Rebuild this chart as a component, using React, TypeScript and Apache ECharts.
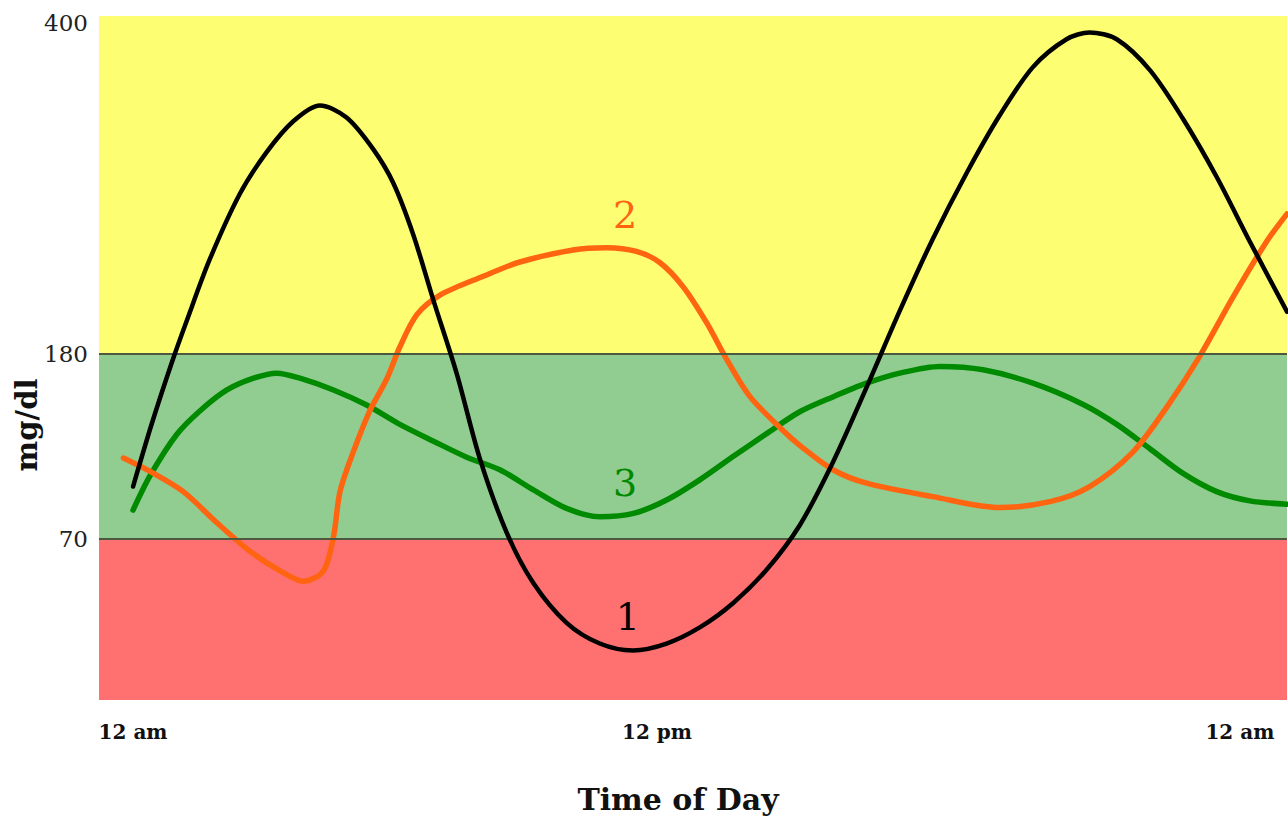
import React, { useEffect, useRef } from "react";
import * as echarts from "echarts";

// ---- Data (hours after midnight, blood glucose in mg/dl) ----
const CURVE1_HOURS = [0.0, 0.43, 0.89, 1.23, 1.76, 2.45, 3.06, 3.67, 4.28, 4.89, 5.5, 5.96, 6.42, 6.88, 7.41, 7.95, 8.56, 9.16, 9.93, 10.69, 11.45, 12.22, 12.98, 13.74, 14.51, 15.27, 16.03, 16.8, 17.56, 18.32, 19.09, 19.85, 20.61, 21.38, 21.91, 22.53, 23.29, 24.04, 24.82, 25.58, 26.43];
const CURVE1_MGDL = [101, 138.5, 175, 202, 243, 286.5, 314, 334.5, 345, 337, 316, 293.5, 259, 215.5, 168.5, 117, 73.5, 51, 33.5, 24.5, 21.5, 24.5, 31.5, 42, 56.5, 78, 115.5, 160, 208.5, 256.5, 300, 338.5, 370.5, 389, 393.5, 389, 368.5, 336.5, 297.5, 254.5, 208];

const CURVE2_HOURS = [-0.22, 0.39, 1.15, 1.92, 2.68, 3.37, 3.9, 4.36, 4.59, 4.74, 5.05, 5.43, 5.81, 6.11, 6.5, 7.03, 8.02, 8.86, 10.08, 10.85, 11.53, 12.07, 12.6, 13.14, 13.6, 14.13, 14.88, 15.27, 16.03, 16.8, 18.32, 19.85, 21.0, 21.91, 22.9, 23.67, 24.43, 25.19, 25.96, 26.43];
const CURVE2_MGDL = [118, 110, 98, 79.5, 64.5, 56, 51.5, 56, 71, 98, 122, 146.5, 165, 184.5, 206, 219, 231.5, 241, 249, 250.5, 248, 240.5, 224.5, 200.5, 176.5, 154.5, 134.5, 125.5, 111, 103, 95, 88.5, 92, 101, 121.5, 148, 178.5, 217.5, 254.5, 273];

const CURVE3_HOURS = [0.0, 0.39, 1.0, 1.53, 2.15, 2.76, 3.29, 3.82, 4.59, 5.35, 6.11, 6.88, 7.64, 8.4, 9.17, 9.93, 10.69, 11.46, 12.22, 12.98, 13.75, 14.51, 15.27, 16.04, 16.8, 17.56, 18.48, 19.47, 20.61, 21.75, 22.53, 23.29, 24.04, 24.82, 25.58, 26.43];
const CURVE3_MGDL = [87, 107.5, 132, 146, 158.5, 165.5, 168.5, 165.5, 158.5, 149.5, 138, 128, 118.5, 111, 99, 88, 83, 85, 93, 105, 119, 132.5, 145.5, 154.5, 162.5, 168.5, 172.5, 170.5, 162.5, 150, 138, 123.5, 109, 98, 92.5, 90.5];

const CURVE_NAMES = ["1", "2", "3"];
const CURVE_LABEL_HOUR = [11.33, 11.27, 11.27];
const CURVE_LABEL_MGDL = [36, 272, 103];

const Y_TICKS = [70, 180, 400];
const THRESHOLDS = [70, 180];
const X_TICK_HOURS = [0, 12, 25.35];
const X_TICK_LABELS = ["12 am", "12 pm", "12 am"];

// ---- Schematic (piecewise-linear) glucose scale ----
const MG_KNOTS = [0, 70, 180, 400];
const AXIS_KNOTS = [-26, 70, 180, 377];
const AXIS_MIN = -26;
const AXIS_MAX = 381;

function toAxis(mg: number): number {
  let i = 0;
  if (mg >= MG_KNOTS[MG_KNOTS.length - 1]) i = MG_KNOTS.length - 2;
  else {
    while (i < MG_KNOTS.length - 2 && mg > MG_KNOTS[i + 1]) i++;
  }
  const t = (mg - MG_KNOTS[i]) / (MG_KNOTS[i + 1] - MG_KNOTS[i]);
  return AXIS_KNOTS[i] + t * (AXIS_KNOTS[i + 1] - AXIS_KNOTS[i]);
}

const COLORS = { c1: "#000000", c2: "#ff6411", c3: "#008a00" };
const SERIF = "'DejaVu Serif', 'Liberation Serif', serif";

function pairs(hours: number[], mg: number[]) {
  return hours.map((h, i) => [h, toAxis(mg[i])]);
}

function curveSeries(idx: number, hours: number[], mg: number[], color: string, width: number) {
  return {
    type: "line",
    name: "Curve " + CURVE_NAMES[idx],
    data: pairs(hours, mg),
    smooth: 0.3,
    showSymbol: false,
    symbol: "none",
    lineStyle: { color, width, cap: "round", join: "round" },
    z: 3 + (idx === 0 ? 2 : idx === 1 ? 1 : 0),
    silent: true,
    markPoint: {
      symbol: "circle",
      symbolSize: 1,
      itemStyle: { color: "rgba(0,0,0,0)" },
      silent: true,
      label: {
        show: true,
        position: "inside",
        formatter: CURVE_NAMES[idx],
        color,
        fontSize: 38,
        fontFamily: SERIF,
      },
      data: [{ coord: [CURVE_LABEL_HOUR[idx], toAxis(CURVE_LABEL_MGDL[idx])] }],
    },
  };
}

export default function App() {
  const ref = useRef<HTMLDivElement>(null);
  useEffect(() => {
    if (!ref.current) return;
    const chart = echarts.init(ref.current, null, { renderer: "svg" });
    const option = {
      animation: false,
      backgroundColor: "#ffffff",
      grid: { left: 99, right: 1, top: 16, bottom: 122, containLabel: false },
      xAxis: {
        type: "value",
        min: -0.78,
        max: 26.43,
        axisLine: { show: false },
        axisTick: { show: false },
        splitLine: { show: false },
        axisLabel: {
          customValues: X_TICK_HOURS,
          formatter: (v: number) => {
            const i = X_TICK_HOURS.findIndex((x) => Math.abs(x - v) < 1e-6);
            return i >= 0 ? X_TICK_LABELS[i] : "";
          },
          margin: 22,
          fontSize: 20,
          fontWeight: "bold",
          fontFamily: SERIF,
          color: "#111",
        },
      },
      yAxis: {
        type: "value",
        min: AXIS_MIN,
        max: AXIS_MAX,
        axisLine: { show: false },
        axisTick: { show: false },
        splitLine: { show: false },
        axisLabel: {
          customValues: Y_TICKS.map(toAxis),
          formatter: (v: number) => {
            const i = Y_TICKS.findIndex((t) => Math.abs(toAxis(t) - v) < 1e-6);
            return i >= 0 ? String(Y_TICKS[i]) : "";
          },
          margin: 11,
          fontSize: 23,
          fontFamily: SERIF,
          color: "#222",
        },
      },
      graphic: [
        {
          type: "text",
          x: 678,
          y: 799,
          style: {
            text: "Time of Day",
            fontSize: 30,
            fontWeight: "bold",
            fontFamily: SERIF,
            fill: "#111",
            align: "center",
            verticalAlign: "middle",
          },
        },
        {
          type: "text",
          x: 27,
          y: 425,
          rotation: Math.PI / 2,
          style: {
            text: "mg/dl",
            fontSize: 29,
            fontWeight: "bold",
            fontFamily: SERIF,
            fill: "#111",
            align: "center",
            verticalAlign: "middle",
          },
        },
      ],
      series: [
        {
          type: "line",
          name: "bands",
          data: [],
          silent: true,
          z: 1,
          markArea: {
            silent: true,
            data: [
              [{ yAxis: AXIS_MIN, itemStyle: { color: "#ff7171" } }, { yAxis: toAxis(THRESHOLDS[0]) }],
              [{ yAxis: toAxis(THRESHOLDS[0]), itemStyle: { color: "#91cd91" } }, { yAxis: toAxis(THRESHOLDS[1]) }],
              [{ yAxis: toAxis(THRESHOLDS[1]), itemStyle: { color: "#fefe72" } }, { yAxis: AXIS_MAX }],
            ],
          },
          markLine: {
            silent: true,
            symbol: ["none", "none"],
            label: { show: false },
            lineStyle: { color: "#4c5840", width: 2, type: "solid" },
            data: THRESHOLDS.map((t) => ({ yAxis: toAxis(t) })),
          },
        },
        curveSeries(2, CURVE3_HOURS, CURVE3_MGDL, COLORS.c3, 5.5),
        curveSeries(1, CURVE2_HOURS, CURVE2_MGDL, COLORS.c2, 5.5),
        curveSeries(0, CURVE1_HOURS, CURVE1_MGDL, COLORS.c1, 4.5),
      ],
    };
    chart.setOption(option as any);
    return () => chart.dispose();
  }, []);
  return (
    <div
      ref={ref}
      style={{ position: "fixed", left: 0, top: 0, width: 1288, height: 822, background: "#fff" }}
    />
  );
}
